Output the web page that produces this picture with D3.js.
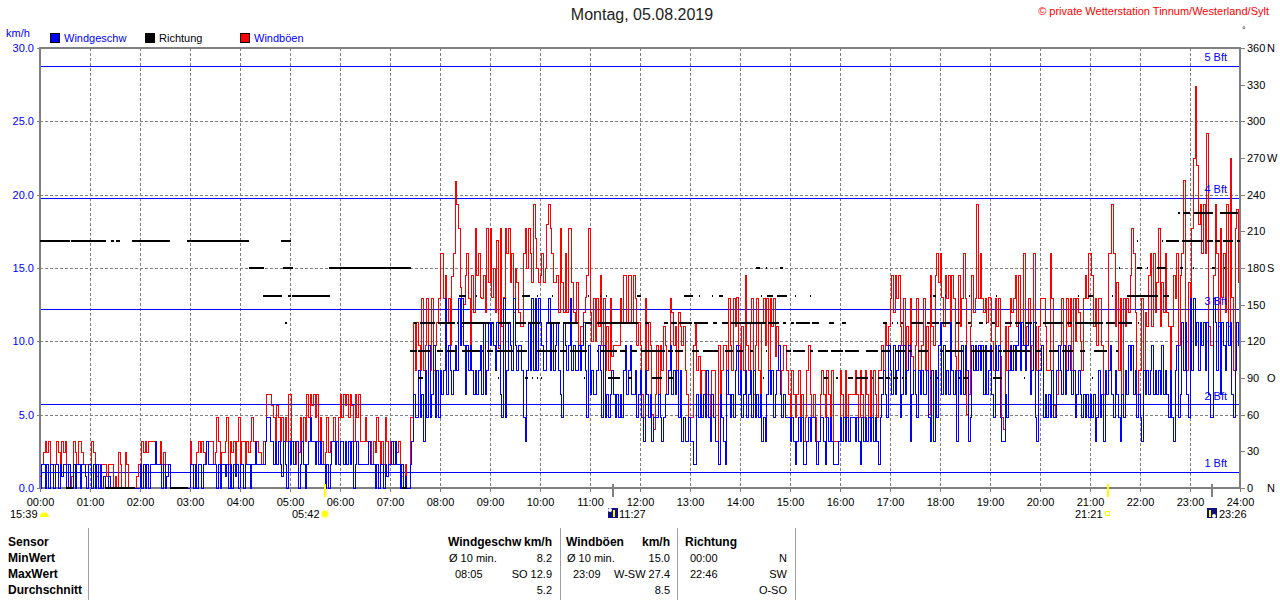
<!DOCTYPE html>
<html>
<head>
<meta charset="utf-8">
<script src="https://cdn.jsdelivr.net/npm/d3@7"></script>
<style>
html, body { margin: 0; padding: 0; background: #fff; }
svg { display: block; }
text { font-family: "Liberation Sans", Arial, sans-serif; font-size: 11px; }
</style>
</head>
<body>
<svg id="chart" width="1280" height="600"></svg>
<script>
// samples every 2 minutes, one row per hour
const gusts = [
0.8,1.6,2.4,3.2,2.4,3.2,1.6,1.6,1.6,1.6,3.2,2.4,1.6,3.2,2.4,3.2,1.6,1.6,0,0.8,3.2,2.4,1.6,3.2,3.2,2.4,1.6,1.6,1.6,1.6,
1.6,3.2,2.4,1.6,0.8,1.6,1.6,1.6,1.6,1.6,0.8,1.6,1.6,1.6,0,0.8,0,2.4,1.6,0,0,2.4,1.6,0,0,0,0,0,0.8,1.6,
1.6,3.2,2.4,3.2,2.4,3.2,3.2,3.2,3.2,2.4,1.6,1.6,3.2,1.6,2.4,1.6,1.6,1.6,0,0,0,0,0,0,0,0,0,0,0,0,
3.2,1.6,1.6,1.6,2.4,3.2,2.4,3.2,2.4,1.6,3.2,3.2,3.2,3.2,1.6,2.4,4.8,3.2,1.6,2.4,2.4,3.2,4.8,1.6,3.2,2.4,3.2,1.6,3.2,4.8,
1.6,3.2,3.2,1.6,3.2,2.4,3.2,4.8,3.2,3.2,3.2,2.4,2.4,1.6,3.2,3.2,6.4,6.4,6.4,5.6,4.8,3.2,5.6,4.8,3.2,4.8,3.2,4.8,3.2,6.4,
6.4,3.2,3.2,1.6,3.2,2.4,4.8,3.2,4.8,3.2,6.4,4.8,6.4,5.6,6.4,4.8,6.4,3.2,4.8,3.2,1.6,2.4,4.8,2.4,3.2,3.2,4.8,2.4,3.2,4.8,
6.4,4.8,6.4,5.6,6.4,4.8,6.4,5.6,3.2,6.4,4.8,6.4,3.2,3.2,3.2,4.8,3.2,3.2,3.2,1.6,3.2,2.4,4.8,3.2,1.6,3.2,1.6,4.8,3.2,1.6,
3.2,1.6,3.2,3.2,2.4,3.2,1.6,0.8,0,1.6,0,0,4.8,4.8,11.3,8,11.3,9.7,8,12.9,8,9.7,12.9,9.7,8,12.9,8,9.7,11.3,12.9,
16,16,12.9,14.5,11.3,12.9,9.7,14.4,16,20.9,19.3,17.7,13.7,11,12.5,14.5,16,12.9,9.7,14.5,12,17.7,14.5,16,13,12.9,14.5,12,17.7,14,
17.7,13,15,12,16.9,9.5,17.7,11,13,17.7,16,17.7,14,16,12,15,14,12,11,11,16,17.7,15,17.7,16,14,19.3,17,15,14,
14.5,16,14,15,18,19.3,17.7,16,14,14,14.5,12,17.7,14,12,16,12,17.7,17.7,14,12,11.3,14,9.7,11,11,12,13,14.5,17.7,
12,10,12.9,10,12.9,11,14.5,9.7,12.9,8,11,8,12.9,9,9.7,9.7,9.7,9.7,12.9,11.3,14.5,14.5,11.3,14.5,14.5,11.3,14.5,12.9,9.7,11.3,
9.7,6.4,4.8,12.9,8,11.3,9.7,5,4,6.4,9.7,6.4,9.7,8,11,9.7,6.4,8,12.9,12,9.7,11,8,12,11,9.7,11,8,6.4,4.8,
4.8,4.8,9.7,11.3,8,9,6.4,8,8,6.4,6.4,6.4,4.8,8,8,3.2,3.2,9.7,6.4,8,9.7,9.7,6.4,12.9,9.7,8,12.9,11,13,9.7,
8,11,8,14.5,9.7,8,11.3,12.9,6.4,9.7,12.9,8,6.4,11.3,12.9,9.7,12.9,8,12.9,11,12.9,9,11,8,6.4,8,9.7,9.7,8,6.4,
4.8,8,6.4,4.8,6.4,8,4.8,6.4,3.2,4.8,8,9.7,6.4,4.8,6.4,4.8,3.2,3.2,6.4,8,6.4,4.8,8,6.4,4.8,8,3.2,3.2,3.2,3.2,
8,6.4,4.8,8,4.8,6.4,6.4,6.4,6.4,8,6.4,4.8,8,6.4,4.8,8,6.4,4.8,8,4.8,8,6.4,4.8,8,8,9.7,8,11.3,9.7,11,
12.9,14.5,12,14.5,12.9,14.5,11,9.7,12.9,8,11,9.7,12.9,9,8,9.7,12.9,8,6.4,9.7,12.9,8,11,5,14.5,11,9.7,14.5,16,14,
16,13,11,14.5,12.9,14.5,11,14.5,12.9,9,8,14.5,11,12.9,16,12.9,5,6.4,11,14.5,12,12.9,19.3,12.9,16,12.9,12,12.9,11.3,13,
12.9,10,8,12.9,11,12.9,9,4.8,4,11,8,11,12.9,12,12.9,14.5,11,14.5,8,9.7,16,9.7,11,12.9,8,9.7,16,11,8,11,
12.9,12.9,12.9,11,8,8,16,12.9,5.6,4.8,6.4,8,9.7,12.9,9.7,8,12.9,11,12.9,8,12.9,10,12.9,12,10,8,12.9,14.5,12.9,16,
16,14.5,11,12.9,9.7,12.9,12.9,9.7,6.4,8,6.4,16,16,19.3,16,11,14,8,12.9,6.4,12.9,11,12.9,12,14.5,17.7,16,12,6.4,8,
8,12.9,8,12,11,14.5,16,11,16,12,14,17.7,11,14,12,16,12,11,8,11,14.5,12.9,16,9.7,14.5,16,21,8,8,14,
12.9,17.7,22.5,27.4,22,18,19.3,16,19.3,16,24.2,11,9.7,9.7,14.5,19.3,16,11,17.7,13,16,12,19.3,11,22.5,13,8,17.7,19,14
];
const speed = [
0,1.6,1.6,0,1.6,0,1.6,1.6,0,1.6,1.6,0,1.6,0.8,1.6,1.6,0,1.6,0,0,1.6,0,1.6,1.6,0,1.6,1.6,0.8,0,1.6,
1.6,0,1.6,0,1.6,0,1.6,0,0.8,0,0,0.8,0,0,0,0,0,0,0,0,0,0,0,0,0,0,0,0,0,0,
1.6,0,1.6,0,1.6,0,1.6,1.6,1.6,3.2,1.6,1.6,1.6,0,1.6,0,0.8,1.6,0,0,0,0,0,0,0,0,0,0,0,0,
1.6,1.6,0,1.6,0,1.6,1.6,0,1.6,1.6,3.2,1.6,1.6,1.6,1.6,1.6,0,1.6,0,1.6,1.6,0.8,1.6,0,1.6,0,1.6,0.8,1.6,0,
1.6,1.6,0,1.6,1.6,1.6,0,1.6,1.6,3.2,1.6,1.6,1.6,1.6,1.6,3.2,4.8,4.8,3.2,3.2,1.6,3.2,1.6,3.2,1.6,0.8,3.2,1.6,0,3.2,
1.6,3.2,1.6,3.2,3.2,0,1.6,3.2,1.6,0,1.6,3.2,4.8,3.2,3.2,1.6,3.2,1.6,3.2,1.6,1.6,0,1.6,0,1.6,3.2,3.2,1.6,3.2,1.6,
3.2,3.2,1.6,3.2,1.6,3.2,1.6,3.2,0,1.6,3.2,1.6,1.6,1.6,1.6,1.6,1.6,3.2,1.6,1.6,1.6,0,1.6,0,1.6,1.6,0,1.6,0.8,1.6,
1.6,3.2,1.6,3.2,1.6,1.6,0,1.6,0,0.8,0,0,1.6,3.2,6.4,4.8,4.8,8,4.8,6.4,3.2,8,4.8,9.7,4.8,6.4,9.7,4.8,8,4.8,
8,6.4,8,12.9,6.4,9.7,8,6.4,8,9.7,8,12.9,9.7,12.9,9.7,6.4,9.7,8,9.7,8,6.4,8,6.4,8,9.7,6.4,11.3,6.4,8,11.3,
9.7,11.3,9.7,8,11.3,9.7,6.4,4.8,12.9,4.8,8,11.3,9.7,8,12.9,9.7,8,9.7,9.7,8,4.8,3.2,8,11.3,8,12.9,8,12.9,8,12.9,
11.3,9.7,8,8,11.3,12.9,8,11.3,8,9.7,11.3,8,6.4,4.8,11.3,9.7,8,9.7,12.9,8,9.7,8,8,9.7,8,9.7,11.3,8,4.8,9.7,
6.4,8,6.4,6.4,8,9.7,8,4.8,9.7,4.8,6.4,4.8,6.4,8,6.4,4.8,6.4,4.8,6.4,4.8,8,9.7,6.4,8,9.7,6.4,6.4,8,4.8,6.4,
8,4.8,3.2,8,6.4,4.8,6.4,3.2,4.8,4.8,4.8,6.4,4.8,3.2,4.8,6.4,6.4,8,9.7,6.4,8,6.4,8,4.8,8,3.2,4.8,3.2,3.2,4.8,
3.2,3.2,1.6,1.6,6.4,4.8,6.4,4.8,6.4,4.8,8,4.8,3.2,6.4,4.8,3.2,3.2,1.6,6.4,4.8,3.2,1.6,8,6.4,4.8,6.4,4.8,8,9.7,6.4,
8,4.8,6.4,8,4.8,6.4,8,4.8,8,4.8,6.4,4.8,6.4,3.2,4.8,3.2,6.4,8,6.4,8,4.8,6.4,8,9.7,6.4,4.8,6.4,4.8,4.8,4.8,
3.2,4.8,3.2,1.6,3.2,4.8,3.2,4.8,1.6,1.6,3.2,4.8,3.2,4.8,4.8,3.2,1.6,3.2,4.8,4.8,3.2,1.6,4.8,3.2,4.8,3.2,1.6,1.6,1.6,3.2,
4.8,3.2,4.8,3.2,4.8,3.2,4.8,4.8,4.8,3.2,4.8,3.2,1.6,4.8,3.2,4.8,3.2,4.8,3.2,4.8,3.2,4.8,3.2,1.6,4.8,6.4,8,6.4,4.8,9.7,
8,6.4,9.7,6.4,8,9.7,4.8,6.4,9.7,6.4,8,9.7,3.2,6.4,8,6.4,4.8,8,6.4,8,6.4,6.4,8,4.8,3.2,8,3.2,8,4.8,9.7,
11.3,6.4,9.7,6.4,8,6.4,11.3,8,6.4,8,3.2,8,6.4,9.7,6.4,9.7,8,3.2,4.8,9.7,8,9.7,8,9.7,8,9.7,6.4,9.7,6.4,8,
9.7,6.4,4.8,9.7,8,9.7,4.8,3.2,3.2,6.4,4.8,8,9.7,8,9.7,8,9.7,11.3,8,11.3,9.7,8,9.7,11.3,6.4,8,11.3,4.8,3.2,8,
8,9.7,4.8,6.4,4.8,6.4,4.8,8,4.8,4.8,8,9.7,8,6.4,9.7,6.4,8,9.7,8,6.4,8,4.8,6.4,8,6.4,4.8,6.4,4.8,6.4,4.8,
6.4,4.8,6.4,3.2,4.8,8,4.8,6.4,3.2,8,6.4,8,9.7,6.4,4.8,8,6.4,4.8,3.2,6.4,4.8,8,6.4,9.7,8,9.7,6.4,8,4.8,6.4,
4.8,3.2,8,6.4,8,6.4,8,9.7,6.4,8,6.4,8,6.4,9.7,6.4,8,6.4,4.8,8,4.8,3.2,8,9.7,4.8,6.4,11.3,8,11.3,6.4,4.8,
12.9,8,12.9,9.7,11.3,8,11.3,9.7,11.3,8,11.3,6.4,4.8,4.8,12.9,11.3,8,11.3,6.4,11.3,9.7,8,11.3,9.7,11.3,6.4,4.8,8,11.3,9.7
];
// wind direction: runs of [from minute, to minute] per compass level
const dirN = [[31,40],[78,114],[156,178],[434,440]];
const dirOne = [[447,448],[453,460],[550,551],[582,586],[590,591],[596,597],[601,602],[653,654],[664,665],[682,696],[705,710],[734,746],[753,760],[868,869],[941,945],[955,958],[970,975],[979,993],[998,999],[1006,1012],[1015,1020],[1024,1030],[1034,1036],[1038,1040],[1068,1069],[1076,1077],[1092,1093],[1101,1104],[1108,1114],[1144,1154],[1161,1162],[1181,1182],[1262,1263]];
const dirTwo = [[444,452],[454,468],[472,473],[476,484],[488,500],[506,528],[530,531],[536,544],[548,568],[572,584],[596,620],[624,632],[636,656],[668,669],[672,692],[696,704],[709,716],[721,750],[753,760],[762,771],[782,791],[796,814],[822,832],[836,844],[852,856],[871,872],[895,901],[904,918],[924,927],[933,946],[949,963],[966,983],[991,1006],[1009,1020],[1026,1038],[1041,1046],[1053,1066],[1080,1084],[1087,1108],[1117,1144],[1149,1154],[1155,1188],[1194,1201],[1211,1222],[1226,1240],[1248,1254],[1265,1280],[1291,1294]];
const dirThree = [[294,296],[449,452],[456,474],[478,498],[500,501],[506,540],[542,543],[550,564],[570,583],[586,600],[603,604],[608,624],[628,646],[654,662],[668,718],[726,731],[741,742],[749,754],[757,764],[767,782],[785,801],[808,812],[818,826],[829,871],[874,887],[891,895],[901,905],[907,924],[926,935],[947,953],[962,967],[1012,1016],[1022,1024],[1028,1029],[1033,1036],[1045,1060],[1064,1068],[1070,1079],[1082,1092],[1099,1104],[1113,1117],[1127,1131],[1135,1136],[1142,1146],[1158,1166],[1170,1176],[1182,1190],[1195,1196],[1204,1228],[1232,1238],[1242,1275],[1279,1290],[1293,1310],[1318,1319],[1323,1324]];
const dirFour = [[268,290],[298,301],[302,348],[503,511],[523,524],[578,588],[596,597],[614,615],[658,659],[672,673],[679,680],[716,721],[773,784],[791,792],[806,807],[815,820],[865,866],[872,880],[884,896],[906,907],[924,925],[1068,1069],[1072,1075],[1086,1087],[1115,1116],[1147,1148],[1246,1247],[1258,1264],[1286,1287],[1304,1342],[1348,1355]];
const dirFive = [[251,269],[292,304],[347,445],[859,864],[871,872],[888,892],[1295,1296],[1316,1322],[1328,1329],[1340,1351],[1368,1372],[1384,1385],[1406,1410],[1421,1422]];
const dirSix = [[0,36],[37,79],[85,89],[91,96],[110,156],[176,251],[289,301],[873,874],[1316,1317],[1346,1347],[1351,1367],[1370,1396],[1400,1408],[1410,1416],[1420,1432],[1436,1440]];
const dirSeven = [[1365,1368],[1371,1380],[1385,1408],[1416,1437]];
const dirLevels = [[0,dirN],[90,dirOne],[112.5,dirTwo],[135,dirThree],[157.5,dirFour],[180,dirFive],[202.5,dirSix],[225,dirSeven]];

const speedTicks = [0,5,10,15,20,25,30];
const degTicks = [0,30,60,90,120,150,180,210,240,270,300,330,360];
const degNames = {0:"N",90:"O",180:"S",270:"W",360:"N"};
const hourTicks = d3.range(0,25);
const beaufort = [["1 Bft",1.06],["2 Bft",5.69],["3 Bft",12.17],["4 Bft",19.74],["5 Bft",28.74]];
const legendItems = [["Windgeschw","#0000ff"],["Richtung","#000000"],["Windböen","#ff0000"]];

const svg = d3.select("#chart");
const x = d3.scaleLinear().domain([0,1440]).range([40,1240]);
const y = d3.scaleLinear().domain([0,30]).range([488,48]);
const yDeg = d3.scaleLinear().domain([0,360]).range([488,48]);
const grey = "#808080";
const snap = v => Math.round(v) + 0.5;

// grid
const gridG = svg.append("g").attr("shape-rendering","crispEdges");
gridG.selectAll(".vgrid").data(hourTicks.slice(1,24)).enter().append("line")
    .attr("x1", d => snap(x(d*60))).attr("x2", d => snap(x(d*60)))
    .attr("y1", 48).attr("y2", 488)
    .attr("stroke", grey).attr("stroke-dasharray","3 2");
gridG.selectAll(".hgrid").data(speedTicks.slice(1,6)).enter().append("line")
    .attr("x1", 40).attr("x2", 1240)
    .attr("y1", d => snap(y(d))).attr("y2", d => snap(y(d)))
    .attr("stroke", grey).attr("stroke-dasharray","3 2");

// beaufort lines
gridG.selectAll(".bft").data(beaufort).enter().append("line")
    .attr("x1", 40).attr("x2", 1240)
    .attr("y1", d => y(d[1])).attr("y2", d => y(d[1]))
    .attr("stroke", "#0000ff");

// frame
svg.append("rect").attr("x",40).attr("y",48).attr("width",1200).attr("height",440)
    .attr("fill","none").attr("stroke",grey).attr("stroke-width",2).attr("shape-rendering","crispEdges");

// series
const stepLine = d3.line().x((d,i) => x(i*2)).y(d => y(d)).curve(d3.curveStepAfter);
svg.append("path").attr("d", stepLine(gusts)).attr("fill","none").attr("stroke","#ff0000").attr("shape-rendering","crispEdges");
svg.append("path").attr("d", stepLine(speed)).attr("fill","none").attr("stroke","#0000ff").attr("shape-rendering","crispEdges");

// direction
dirLevels.forEach(level => {
    svg.append("g").attr("shape-rendering","crispEdges").selectAll("line").data(level[1]).enter().append("line")
        .attr("x1", d => x(d[0])).attr("x2", d => x(d[1]))
        .attr("y1", yDeg(level[0])).attr("y2", yDeg(level[0]))
        .attr("stroke","#000").attr("stroke-width",2);
});

// bft labels
svg.selectAll(".bftLabel").data(beaufort).enter().append("text")
    .attr("x",1227).attr("y", d => y(d[1])-5)
    .attr("text-anchor","end").attr("fill","#0000ff").text(d => d[0]);

// axes
const leftAxis = svg.append("g").attr("transform","translate(40,0)")
    .call(d3.axisLeft(y).tickValues(speedTicks).tickFormat(d3.format(".1f")).tickSize(3).tickPadding(3));
const rightAxis = svg.append("g").attr("transform","translate(1240,0)")
    .call(d3.axisRight(yDeg).tickValues(degTicks).tickFormat(d => d).tickSize(5).tickPadding(2));
const bottomAxis = svg.append("g").attr("transform","translate(0,488)")
    .call(d3.axisBottom(x).tickValues(hourTicks.map(d => d*60))
        .tickFormat(d => d3.format("02")(d/60)+":00").tickSize(4).tickPadding(6));
[leftAxis,rightAxis,bottomAxis].forEach(a => {
    a.select(".domain").remove();
    a.selectAll("line").attr("stroke",grey).attr("shape-rendering","crispEdges");
    a.selectAll("text").style("font-family",'"Liberation Sans", Arial, sans-serif').style("font-size","11px").attr("fill","#000");
});
leftAxis.selectAll("text").attr("fill","#0000ff");
svg.selectAll(".degName").data(degTicks.filter(d => degNames[d])).enter().append("text")
    .attr("x",1267).attr("y", d => yDeg(d)+4).text(d => degNames[d]);

// titles
svg.append("text").attr("x",642).attr("y",20).attr("text-anchor","middle").style("font-size","16px").attr("fill","#222").text("Montag, 05.08.2019");
svg.append("text").attr("x",1269).attr("y",15).attr("text-anchor","end").style("font-size","11px").attr("fill","#ff0000").text("© private Wetterstation Tinnum/Westerland/Sylt");
svg.append("text").attr("x",1242).attr("y",33).style("font-size","9px").text("°");
svg.append("text").attr("x",6).attr("y",37).attr("fill","#0000ff").text("km/h");

// legend
legendItems.forEach((d,i) => {
    const lx = [50,145,240][i];
    svg.append("rect").attr("x",lx+.5).attr("y",33.5).attr("width",9).attr("height",9)
        .attr("fill",d[1]).attr("stroke","#000").attr("shape-rendering","crispEdges");
    svg.append("text").attr("x",lx+14).attr("y",42).attr("fill", i==1 ? "#000" : "#0000ff").text(d[0]);
});

// sun and moon times
[["15:39",10],["05:42",292],["11:27",619],["21:21",1075],["23:26",1219]].forEach(d => {
    svg.append("text").attr("x",d[1]).attr("y",518).text(d[0]);
});
svg.append("path").attr("d","M40,517 a4.5,4.5 0 0 1 9,0 z").attr("fill","#ffff00");
svg.append("circle").attr("cx",325).attr("cy",514).attr("r",4.5).attr("fill","#ffffaa");
svg.append("circle").attr("cx",325).attr("cy",514).attr("r",3).attr("fill","#ffff00");
svg.append("rect").attr("x",1105.5).attr("y",511.5).attr("width",4).attr("height",4).attr("fill","none").attr("stroke","#ffff00").attr("shape-rendering","crispEdges");
// moon icons, [left, rising]
[[608,true],[1207,false]].forEach(d => {
    svg.append("rect").attr("x",d[0]).attr("y",508).attr("width",10).attr("height",10).attr("fill","#101080");
    svg.append("rect").attr("x",d[0]+(d[1]?5:2)).attr("y",510).attr("width",2).attr("height",7).attr("fill","#ffff00");
    svg.append("circle").attr("cx",d[0]+(d[1]?2:7)).attr("cy",d[1]?510:516).attr("r",2).attr("fill","#fff");
});
[[325,"#ffff00"],[613,grey],[1108,"#ffff00"],[1212,grey]].forEach(d => {
    svg.append("rect").attr("x",d[0]-1).attr("y",484).attr("width",2).attr("height",13).attr("fill",d[1]);
});

// table
[88,560,677,795].forEach(d => {
    svg.append("line").attr("x1",d+.5).attr("x2",d+.5).attr("y1",528).attr("y2",600).attr("stroke","#a0a0a0");
});
const rowY = [546,562,578,594];
["Sensor","MinWert","MaxWert","Durchschnitt"].forEach((d,i) => {
    svg.append("text").attr("x",8).attr("y",rowY[i]).style("font-weight","bold").style("font-size","12px").text(d);
});
const cells = [
    [448,0,"Windgeschw",1,0],[552,0,"km/h",1,1],[449,1,"Ø 10 min.",0,0],[552,1,"8.2",0,1],[455,2,"08:05",0,0],[552,2,"SO 12.9",0,1],[552,3,"5.2",0,1],
    [566,0,"Windböen",1,0],[670,0,"km/h",1,1],[567,1,"Ø 10 min.",0,0],[670,1,"15.0",0,1],[573,2,"23:09",0,0],[670,2,"W-SW 27.4",0,1],[670,3,"8.5",0,1],
    [685,0,"Richtung",1,0],[690,1,"00:00",0,0],[787,1,"N",0,1],[690,2,"22:46",0,0],[787,2,"SW",0,1],[787,3,"O-SO",0,1]
];
svg.selectAll(".cell").data(cells).enter().append("text")
    .attr("x",d => d[0]).attr("y",d => rowY[d[1]])
    .attr("text-anchor",d => d[4] ? "end" : "start")
    .style("font-weight",d => d[3] ? "bold" : "normal")
    .style("font-size",d => d[3] ? "12px" : "11px")
    .text(d => d[2]);
</script>
</body>
</html>
